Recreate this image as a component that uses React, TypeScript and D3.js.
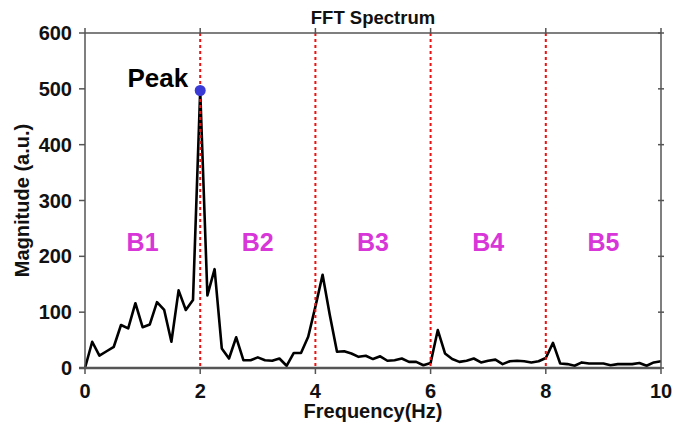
import React from "react";
import * as d3 from "d3";

const freqs: number[] = [
  0, 0.125, 0.25, 0.375, 0.5, 0.625, 0.75, 0.875, 1.0, 1.125, 1.25, 1.375, 1.5, 1.625, 1.75, 1.875,
  2.0, 2.125, 2.25, 2.375, 2.5, 2.625, 2.75, 2.875, 3.0, 3.125, 3.25, 3.375, 3.5, 3.625, 3.75, 3.875,
  4.0, 4.125, 4.25, 4.375, 4.5, 4.625, 4.75, 4.875, 5.0, 5.125, 5.25, 5.375, 5.5, 5.625, 5.75, 5.875,
  6.0, 6.125, 6.25, 6.375, 6.5, 6.625, 6.75, 6.875, 7.0, 7.125, 7.25, 7.375, 7.5, 7.625, 7.75, 7.875,
  8.0, 8.125, 8.25, 8.375, 8.5, 8.625, 8.75, 8.875, 9.0, 9.125, 9.25, 9.375, 9.5, 9.625, 9.75, 9.875, 10.0,
];
const magnitudes: number[] = [
  0, 47, 22, 30, 38, 77, 71, 116, 73, 78, 118, 104, 47, 139, 104, 122,
  497, 130, 177, 35, 17, 55, 14, 14, 19, 14, 13, 17, 4, 27, 27, 56,
  110, 167, 95, 29, 30, 26, 20, 22, 16, 21, 13, 14, 17, 11, 11, 5,
  9, 68, 26, 16, 11, 13, 17, 10, 13, 15, 7, 12, 13, 12, 10, 12,
  18, 45, 8, 7, 4, 10, 8, 8, 8, 5, 7, 7, 7, 9, 4, 10, 12,
];
const xTicks: number[] = [0, 2, 4, 6, 8, 10];
const yTicks: number[] = [0, 100, 200, 300, 400, 500, 600];
const bandEdges: number[] = [2, 4, 6, 8];
const bandLabels: string[] = ["B1", "B2", "B3", "B4", "B5"];
const bandCenters: number[] = [1, 3, 5, 7, 9];
const peakFreq = 2.0;
const peakMag = 497;

const W = 673;
const H = 430;
const M = { left: 85, right: 12, top: 33, bottom: 62 };

export default function App() {
  const x = d3.scaleLinear().domain([0, 10]).range([M.left, W - M.right]);
  const y = d3.scaleLinear().domain([0, 600]).range([H - M.bottom, M.top]);
  const line = d3
    .line<number>()
    .x((_, i) => x(freqs[i]))
    .y((d) => y(d));
  const font = "'Liberation Sans', Arial, sans-serif";
  const axisColor = "#555";
  const x0 = x(0), x1 = x(10), y0 = y(0), y1 = y(600);
  return (
    <svg
      width={W}
      height={H}
      style={{ position: "absolute", left: 0, top: 0, background: "#fff" }}
      fontFamily={font}
    >
      {/* spectrum */}
      <path d={line(magnitudes) || ""} fill="none" stroke="#000" strokeWidth={2.6} strokeLinejoin="round" />
      {/* band separators */}
      {bandEdges.map((b) => (
        <line
          key={b}
          x1={x(b)}
          x2={x(b)}
          y1={y1}
          y2={y0}
          stroke="#ee1111"
          strokeWidth={2}
          strokeDasharray="3,3"
        />
      ))}
      {/* frame */}
      <line x1={x0} x2={x1} y1={y1} y2={y1} stroke={axisColor} strokeWidth={1.5} />
      <line x1={x1} x2={x1} y1={y1} y2={y0} stroke={axisColor} strokeWidth={1.5} />
      <line x1={x0} x2={x0} y1={y1} y2={y0} stroke={axisColor} strokeWidth={1.5} />
      <line x1={x0 - 6} x2={x1} y1={y0} y2={y0} stroke={axisColor} strokeWidth={2.5} />
      {/* ticks */}
      {xTicks.map((t) => (
        <g key={"xt" + t}>
          <line x1={x(t)} x2={x(t)} y1={y0} y2={y0 + 6} stroke={axisColor} strokeWidth={1.5} />
          <line x1={x(t)} x2={x(t)} y1={y1 - 5} y2={y1} stroke={axisColor} strokeWidth={1.5} />
          <text
            x={x(t)}
            y={y0 + 30}
            textAnchor="middle"
            fontSize={20}
            fontWeight="bold"
            fill="#111"
          >
            {t}
          </text>
        </g>
      ))}
      {yTicks.map((t) => (
        <g key={"yt" + t}>
          <line x1={x0 - 6} x2={x0} y1={y(t)} y2={y(t)} stroke={axisColor} strokeWidth={1.5} />
          <line x1={x1 - 3} x2={x1 + 3} y1={y(t)} y2={y(t)} stroke={axisColor} strokeWidth={1.5} />
          <text
            x={x0 - 13}
            y={y(t)}
            dy="0.35em"
            textAnchor="end"
            fontSize={20}
            fontWeight="bold"
            fill="#111"
          >
            {t}
          </text>
        </g>
      ))}
      {/* band labels */}
      {bandLabels.map((b, i) => (
        <text
          key={b}
          x={x(bandCenters[i])}
          y={251}
          textAnchor="middle"
          fontSize={25}
          fontWeight="bold"
          fill="#d836d8"
        >
          {b}
        </text>
      ))}
      {/* peak */}
      <circle cx={x(peakFreq)} cy={y(peakMag)} r={5.5} fill="#3a3ad6" />
      <text x={x(peakFreq) - 12} y={87} textAnchor="end" fontSize={26} fontWeight="bold" fill="#000">
        Peak
      </text>
      {/* titles */}
      <text x={(x0 + x1) / 2} y={24} textAnchor="middle" fontSize={18.5} fontWeight="bold" fill="#111">
        FFT Spectrum
      </text>
      <text x={(x0 + x1) / 2} y={418} textAnchor="middle" fontSize={20} fontWeight="bold" fill="#111">
        Frequency(Hz)
      </text>
      <text
        transform={`translate(29, ${(y0 + y1) / 2}) rotate(-90)`}
        textAnchor="middle"
        fontSize={20}
        fontWeight="bold"
        fill="#111"
      >
        Magnitude (a.u.)
      </text>
    </svg>
  );
}
